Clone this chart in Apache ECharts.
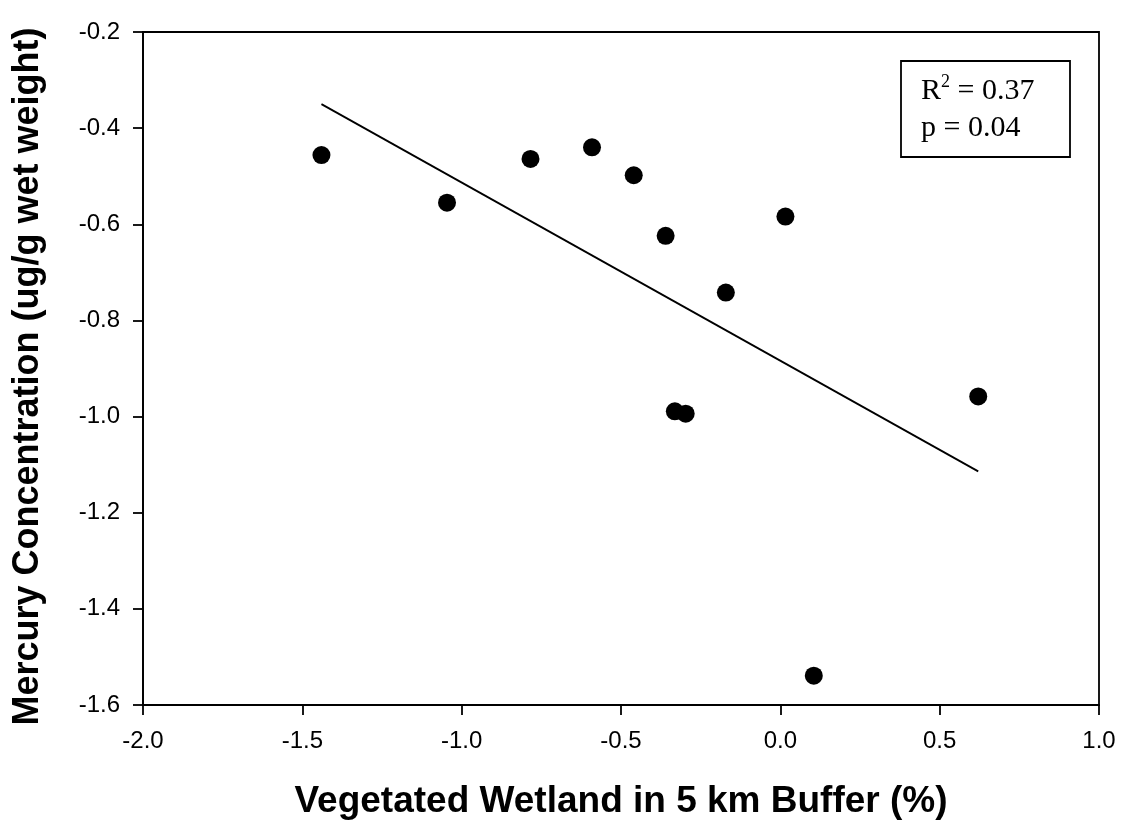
<!DOCTYPE html>
<html style="height: 100%">
<head>
    <meta charset="utf-8">
</head>
<body style="height: 100%; margin: 0; background: #fff">
    <div id="container" style="width: 1127px; height: 827px"></div>
    <script type="text/javascript" src="https://cdn.jsdelivr.net/npm/echarts@6/dist/echarts.min.js"></script>
    <script type="text/javascript">
        // wetland % (x) vs mercury concentration (y)
        var wetland = [-1.440, -1.046, -0.784, -0.591, -0.460, -0.360, 0.016, -0.171, -0.331, -0.297, 0.621, 0.105];
        var mercury = [-0.456, -0.555, -0.464, -0.440, -0.498, -0.624, -0.584, -0.742, -0.989, -0.994, -0.958, -1.539];

        // fitted regression line end points
        var fitX = [-1.440, 0.621];
        var fitY = [-0.350, -1.114];

        var xTicks = { min: -2, max: 1, interval: 0.5 };
        var yTicks = { min: -1.6, max: -0.2, interval: 0.2 };

        var points = wetland.map(function (x, i) { return [x, mercury[i]]; });
        var fit = fitX.map(function (x, i) { return [x, fitY[i]]; });

        var dom = document.getElementById("container");
        var myChart = echarts.init(dom);

        var axisFont = { fontFamily: 'Liberation Sans', fontSize: 24, color: '#000' };

        option = {
            backgroundColor: '#fff',
            animation: false,
            grid: {
                left: 143, top: 32, right: 28, bottom: 122,
                show: true,
                borderColor: '#000',
                borderWidth: 1.8
            },
            xAxis: {
                type: 'value',
                min: xTicks.min, max: xTicks.max, interval: xTicks.interval,
                name: 'Vegetated Wetland in 5 km Buffer (%)',
                nameLocation: 'middle',
                nameGap: 78,
                nameTextStyle: { fontFamily: 'Liberation Sans', fontWeight: 'bold', fontSize: 37, color: '#000' },
                axisLine: { onZero: false, lineStyle: { color: '#000', width: 1.8 } },
                axisTick: { inside: false, length: 10, lineStyle: { color: '#000', width: 1.8 } },
                axisLabel: Object.assign({ margin: 24, formatter: function (v) { return v.toFixed(1); } }, axisFont),
                splitLine: { show: false }
            },
            yAxis: {
                type: 'value',
                min: yTicks.min, max: yTicks.max, interval: yTicks.interval,
                name: 'Mercury Concentration (ug/g wet weight)',
                nameLocation: 'middle',
                nameGap: 97,
                nameTextStyle: { fontFamily: 'Liberation Sans', fontWeight: 'bold', fontSize: 36, color: '#000', padding: [0, 16, 0, 0] },
                axisLine: { onZero: false, lineStyle: { color: '#000', width: 1.8 } },
                axisTick: { inside: false, length: 10, lineStyle: { color: '#000', width: 1.8 } },
                axisLabel: Object.assign({ margin: 23, formatter: function (v) { return v.toFixed(1); } }, axisFont),
                splitLine: { show: false }
            },
            graphic: [
                {
                    type: 'rect',
                    shape: { x: 901, y: 61, width: 169, height: 96 },
                    style: { fill: '#fff', stroke: '#000', lineWidth: 1.8 },
                    z: 10
                },
                {
                    type: 'text',
                    left: 921, top: 73,
                    z: 11,
                    style: {
                        text: '{n|R}{s|2}{n| = 0.37}\n{n|p = 0.04}',
                        rich: {
                            n: { fontFamily: 'Liberation Serif', fontSize: 30, lineHeight: 37, fill: '#000' },
                            s: { fontFamily: 'Liberation Serif', fontSize: 18, lineHeight: 37, verticalAlign: 'top', fill: '#000', padding: [0, 0, 16, 0] }
                        }
                    }
                }
            ],
            series: [
                {
                    name: 'fit',
                    type: 'line',
                    data: fit,
                    showSymbol: false,
                    symbol: 'none',
                    lineStyle: { color: '#000', width: 1.8 },
                    z: 2
                },
                {
                    name: 'sites',
                    type: 'scatter',
                    data: points,
                    symbol: 'circle',
                    symbolSize: 18,
                    itemStyle: { color: '#000', opacity: 1 },
                    z: 3
                }
            ]
        };

        if (option && typeof option === "object") {
            myChart.setOption(option, true);
        }
    </script>
</body>
</html>
